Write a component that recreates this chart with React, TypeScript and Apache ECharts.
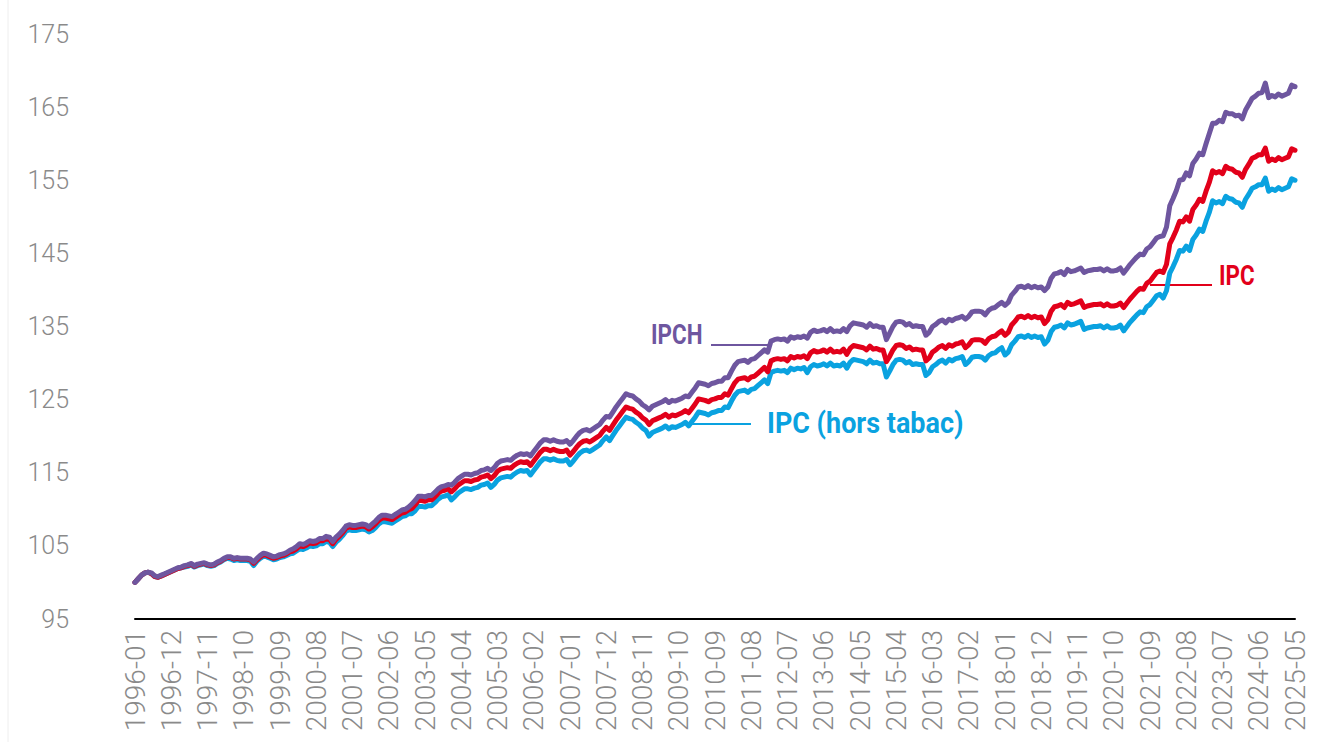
import React, { useEffect, useRef } from 'react';
import * as echarts from 'echarts';

const START_YEAR = 1996;
const MONTH_COUNT = 353;
const months: string[] = [];
for (let i = 0; i < MONTH_COUNT; i++) {
  const y = START_YEAR + Math.floor(i / 12);
  const m = (i % 12) + 1;
  months.push(`${y}-${m < 10 ? '0' + m : m}`);
}

// IPCH (base 100 = 1996-01)
const ipch: number[] = [
  100.0, 100.5, 101.0, 101.3, 101.4, 101.3, 100.9, 100.8, 101.0, 101.2, 101.4, 101.6,
  101.8, 102.0, 102.1, 102.3, 102.4, 102.6, 102.3, 102.5, 102.6, 102.7, 102.5, 102.4,
  102.5, 102.8, 103.0, 103.3, 103.5, 103.5, 103.3, 103.4, 103.3, 103.3, 103.3, 103.2,
  102.8, 103.3, 103.7, 104.0, 103.9, 103.7, 103.5, 103.6, 103.8, 103.9, 104.1, 104.4,
  104.6, 104.9, 105.3, 105.2, 105.4, 105.7, 105.6, 105.7, 106.0, 106.0, 106.3, 106.2,
  105.6, 106.2, 106.6, 107.1, 107.7, 107.9, 107.8, 107.8, 107.9, 108.0, 107.9, 107.6,
  108.0, 108.4, 108.9, 109.2, 109.2, 109.1, 109.0, 109.3, 109.6, 109.9, 110.0, 110.3,
  110.7, 111.2, 111.8, 111.8, 111.7, 111.9, 111.9, 112.3, 112.8, 113.1, 113.2, 113.4,
  113.3, 113.7, 114.2, 114.5, 114.8, 114.8, 114.7, 114.9, 115.0, 115.3, 115.4, 115.6,
  115.3, 115.7, 116.3, 116.6, 116.7, 116.8, 116.7, 117.1, 117.4, 117.6, 117.5, 117.6,
  117.3, 117.9, 118.5, 119.1, 119.5, 119.5, 119.3, 119.5, 119.3, 119.2, 119.2, 119.4,
  118.9, 119.4, 120.0, 120.5, 120.8, 120.9, 120.7, 121.0, 121.3, 121.6, 122.2, 122.7,
  122.6, 123.3, 124.0, 124.6, 125.2, 125.8, 125.6, 125.5, 125.1, 124.8, 124.3, 124.0,
  123.6, 124.1, 124.3, 124.5, 124.7, 125.0, 124.6, 124.9, 124.8, 125.0, 125.2, 125.5,
  125.4, 126.0, 126.6, 127.3, 127.2, 127.1, 126.9, 127.2, 127.3, 127.5, 127.5, 128.0,
  128.0, 128.9, 129.7, 130.2, 130.3, 130.4, 130.1, 130.5, 130.6, 131.0, 131.4, 131.8,
  131.5, 133.0, 133.2, 133.3, 133.2, 133.3, 133.0, 133.6, 133.4, 133.6, 133.5, 133.7,
  133.4, 134.2, 134.5, 134.3, 134.4, 134.6, 134.3, 134.7, 134.3, 134.4, 134.3, 134.7,
  134.3, 135.1, 135.5, 135.4, 135.3, 135.2, 134.9, 135.4, 135.0, 135.1, 134.9, 134.9,
  133.2, 134.1, 135.0, 135.6, 135.7, 135.6, 135.2, 135.4, 135.0, 135.1, 135.0, 135.0,
  133.8, 134.2, 135.0, 135.3, 135.7, 135.9, 135.5, 136.0, 135.8, 136.1, 136.2, 136.4,
  136.0, 136.4, 137.0, 137.1, 137.1, 137.0, 136.6, 137.2, 137.5, 137.6, 138.0, 138.3,
  137.9, 138.3, 139.3, 139.8, 140.4, 140.5, 140.3, 140.6, 140.3, 140.5, 140.3, 140.4,
  139.9, 140.4, 141.6, 142.2, 142.3, 142.5, 142.1, 142.8, 142.5, 142.6, 142.8, 143.0,
  142.4, 142.6, 142.7, 142.8, 142.8, 142.9, 142.6, 142.9, 142.6, 142.6, 142.7, 143.0,
  142.3, 142.9, 143.5, 144.0, 144.5, 144.9, 144.8, 145.6, 145.9, 146.5, 147.1, 147.3,
  147.4, 148.6, 151.5, 152.5, 153.6, 155.0, 155.1, 156.0, 155.6, 157.3, 157.9, 158.7,
  158.5, 160.0, 161.4, 162.8, 162.8, 163.2, 163.0, 164.3, 164.1, 164.1, 163.8, 163.9,
  163.4, 164.6, 165.4, 166.2, 166.5, 166.9, 167.0, 168.3, 166.3, 166.6, 166.4, 166.8,
  166.5, 166.7, 166.9, 168.0, 167.8,
];

// IPC
const ipc: number[] = [
  100.0, 100.5, 101.0, 101.3, 101.4, 101.2, 100.8, 100.7, 100.9, 101.1, 101.3, 101.5,
  101.7, 101.9, 102.0, 102.2, 102.3, 102.5, 102.2, 102.4, 102.5, 102.6, 102.4, 102.3,
  102.4, 102.7, 102.9, 103.2, 103.4, 103.4, 103.2, 103.3, 103.2, 103.2, 103.2, 103.1,
  102.6, 103.1, 103.5, 103.8, 103.7, 103.5, 103.3, 103.4, 103.6, 103.7, 103.9, 104.2,
  104.3, 104.6, 105.0, 104.9, 105.1, 105.4, 105.3, 105.4, 105.7, 105.7, 106.0, 105.9,
  105.3, 105.9, 106.3, 106.8, 107.4, 107.6, 107.5, 107.5, 107.6, 107.7, 107.6, 107.3,
  107.6, 108.0, 108.5, 108.8, 108.8, 108.7, 108.6, 108.9, 109.2, 109.5, 109.6, 109.9,
  110.1, 110.6, 111.2, 111.2, 111.1, 111.3, 111.3, 111.7, 112.2, 112.5, 112.6, 112.8,
  112.4, 112.8, 113.3, 113.6, 113.9, 113.9, 113.8, 114.0, 114.1, 114.4, 114.5, 114.7,
  114.2, 114.6, 115.2, 115.5, 115.6, 115.7, 115.6, 116.0, 116.3, 116.5, 116.4, 116.5,
  116.0, 116.6, 117.2, 117.8, 118.2, 118.2, 118.0, 118.2, 118.0, 117.9, 117.9, 118.1,
  117.4, 117.9, 118.5, 119.0, 119.3, 119.4, 119.2, 119.5, 119.8, 120.1, 120.7, 121.2,
  120.8, 121.5, 122.2, 122.8, 123.4, 124.0, 123.8, 123.7, 123.3, 123.0, 122.5, 122.2,
  121.6, 122.1, 122.3, 122.5, 122.7, 123.0, 122.6, 122.9, 122.8, 123.0, 123.2, 123.5,
  123.2, 123.8, 124.4, 125.1, 125.0, 124.9, 124.7, 125.0, 125.1, 125.3, 125.3, 125.8,
  125.6, 126.5, 127.3, 127.8, 127.9, 128.0, 127.7, 128.1, 128.2, 128.6, 129.0, 129.4,
  128.8, 130.3, 130.5, 130.6, 130.5, 130.6, 130.3, 130.9, 130.7, 130.9, 130.8, 131.0,
  130.6, 131.4, 131.7, 131.5, 131.6, 131.8, 131.5, 131.9, 131.5, 131.6, 131.5, 131.9,
  131.2, 132.0, 132.4, 132.3, 132.2, 132.1, 131.8, 132.3, 131.9, 132.0, 131.8, 131.8,
  130.2, 130.9, 131.8, 132.4, 132.5, 132.4, 132.0, 132.2, 131.8, 131.9, 131.8, 131.8,
  130.3, 130.7, 131.5, 131.8, 132.2, 132.4, 132.0, 132.5, 132.3, 132.6, 132.7, 132.9,
  132.1, 132.5, 133.1, 133.2, 133.2, 133.1, 132.7, 133.3, 133.6, 133.7, 134.1, 134.4,
  133.8, 134.2, 135.2, 135.7, 136.3, 136.4, 136.2, 136.5, 136.2, 136.4, 136.2, 136.3,
  135.4, 135.9, 137.1, 137.7, 137.8, 138.0, 137.6, 138.3, 138.0, 138.1, 138.3, 138.5,
  137.6, 137.8, 137.9, 138.0, 138.0, 138.1, 137.8, 138.1, 137.8, 137.8, 137.9, 138.2,
  137.6, 138.2, 138.8, 139.3, 139.8, 140.2, 140.1, 140.9, 141.2, 141.8, 142.4, 142.6,
  142.4, 143.5, 146.3, 147.2, 148.2, 149.4, 149.3, 150.0, 149.4, 151.0, 151.6, 152.4,
  152.1, 153.5, 154.7, 156.3, 156.0, 156.2, 155.9, 156.9, 156.6, 156.5, 156.1, 156.0,
  155.4, 156.5, 157.2, 158.0, 158.2, 158.5, 158.5, 159.4, 157.6, 157.9, 157.7, 158.1,
  157.8, 158.0, 158.2, 159.3, 159.1,
];

// IPC (hors tabac)
const ipcHorsTabac: number[] = [
  100.0, 100.5, 101.0, 101.3, 101.4, 101.2, 100.8, 100.7, 100.9, 101.1, 101.3, 101.5,
  101.7, 101.9, 102.0, 102.1, 102.2, 102.4, 102.1, 102.3, 102.4, 102.5, 102.3, 102.2,
  102.3, 102.6, 102.8, 103.1, 103.3, 103.2, 103.0, 103.1, 103.0, 103.0, 103.0, 102.9,
  102.3, 102.9, 103.3, 103.6, 103.5, 103.3, 103.1, 103.2, 103.4, 103.5, 103.7, 103.9,
  104.0, 104.3, 104.6, 104.5, 104.7, 105.0, 104.9, 105.0, 105.3, 105.3, 105.6, 105.5,
  104.9, 105.5, 105.9, 106.4, 107.0, 107.2, 107.1, 107.1, 107.2, 107.3, 107.2, 106.9,
  107.1, 107.5, 108.0, 108.3, 108.3, 108.2, 108.1, 108.4, 108.7, 109.0, 109.1, 109.4,
  109.4, 109.8, 110.4, 110.4, 110.3, 110.5, 110.5, 110.9, 111.4, 111.7, 111.8, 112.0,
  111.3, 111.7, 112.2, 112.5, 112.8, 112.8, 112.7, 112.9, 113.0, 113.3, 113.4, 113.6,
  113.0, 113.4, 114.0, 114.3, 114.4, 114.5, 114.4, 114.8, 115.1, 115.3, 115.2, 115.3,
  114.7, 115.3, 115.9, 116.5, 116.9, 116.9, 116.7, 116.9, 116.7, 116.6, 116.6, 116.8,
  116.1, 116.6, 117.2, 117.7, 118.0, 118.1, 117.9, 118.2, 118.5, 118.8, 119.4, 119.9,
  119.4, 120.1, 120.8, 121.4, 122.0, 122.6, 122.4, 122.3, 121.9, 121.6, 121.1, 120.8,
  120.0, 120.5, 120.7, 120.9, 121.1, 121.4, 121.0, 121.3, 121.2, 121.4, 121.6, 121.9,
  121.4, 122.0, 122.6, 123.3, 123.2, 123.1, 122.9, 123.2, 123.3, 123.5, 123.5, 124.0,
  123.9, 124.8, 125.6, 126.1, 126.2, 126.3, 126.0, 126.4, 126.5, 126.9, 127.3, 127.7,
  127.2, 128.7, 128.9, 129.0, 128.9, 129.0, 128.7, 129.3, 129.1, 129.3, 129.2, 129.4,
  128.7, 129.5, 129.8, 129.6, 129.7, 129.9, 129.6, 130.0, 129.6, 129.7, 129.6, 130.0,
  129.3, 130.1, 130.5, 130.4, 130.3, 130.2, 129.9, 130.4, 130.0, 130.1, 129.9, 129.9,
  128.1, 128.9, 129.8, 130.4, 130.5, 130.4, 130.0, 130.2, 129.8, 129.9, 129.8, 129.8,
  128.3, 128.7, 129.5, 129.8, 130.2, 130.4, 130.0, 130.5, 130.3, 130.6, 130.7, 130.9,
  129.8, 130.2, 130.8, 130.9, 130.9, 130.8, 130.4, 131.0, 131.3, 131.4, 131.8, 132.1,
  131.1, 131.5, 132.5, 133.0, 133.6, 133.7, 133.5, 133.8, 133.5, 133.7, 133.5, 133.6,
  132.6, 133.1, 134.3, 134.9, 135.0, 135.2, 134.8, 135.5, 135.2, 135.3, 135.5, 135.7,
  134.6, 134.8, 134.9, 135.0, 135.0, 135.1, 134.8, 135.1, 134.8, 134.8, 134.9, 135.2,
  134.4, 135.0, 135.6, 136.1, 136.6, 137.0, 136.9, 137.7, 138.0, 138.6, 139.2, 139.4,
  138.9, 139.9, 142.3, 143.2, 144.2, 145.4, 145.3, 146.0, 145.4, 146.9, 147.5, 148.3,
  148.0, 149.4, 150.6, 152.2, 151.9, 152.1, 151.8, 152.8, 152.5, 152.4, 152.0, 151.9,
  151.3, 152.4, 153.1, 153.9, 154.1, 154.4, 154.4, 155.3, 153.5, 153.8, 153.6, 154.0,
  153.7, 153.9, 154.1, 155.2, 155.0,
];

const Y_MIN = 95;
const Y_MAX = 175;
const Y_STEP = 10;
const LABEL_EVERY = 11;

const COLOR_IPCH = '#6E569F';
const COLOR_IPC = '#E2001A';
const COLOR_HT = '#0AA2E0';

export default function App() {
  const ref = useRef<HTMLDivElement>(null);

  useEffect(() => {
    if (!ref.current) return;
    const chart = echarts.init(ref.current, null, { renderer: 'svg' });
    const labelFont = 'Roboto';
    const annFont = (size: number) => `bold ${size}px Roboto`;
    chart.setOption({
      animation: false,
      backgroundColor: '#ffffff',
      grid: { left: 135, right: 24, top: 34, bottom: 123, containLabel: false },
      xAxis: {
        type: 'category',
        data: months,
        boundaryGap: false,
        axisLine: { show: true, lineStyle: { color: '#000000', width: 2 } },
        axisTick: { show: false },
        splitLine: { show: false },
        axisLabel: {
          interval: LABEL_EVERY - 1,
          rotate: 90,
          margin: 11,
          color: '#8a8a8a',
          fontFamily: labelFont,
          fontWeight: 300,
          fontSize: 28,
        },
      },
      yAxis: {
        type: 'value',
        min: Y_MIN,
        max: Y_MAX,
        interval: Y_STEP,
        axisLine: { show: false },
        axisTick: { show: false },
        splitLine: { show: false },
        axisLabel: {
          margin: 66,
          color: '#8a8a8a',
          fontFamily: labelFont,
          fontWeight: 300,
          fontSize: 25,
        },
      },
      series: [
        {
          name: 'IPC (hors tabac)',
          type: 'line',
          data: ipcHorsTabac,
          showSymbol: false,
          symbol: 'none',
          lineStyle: { color: COLOR_HT, width: 5, cap: 'round', join: 'round' },
          itemStyle: { color: COLOR_HT },
        },
        {
          name: 'IPC',
          type: 'line',
          data: ipc,
          showSymbol: false,
          symbol: 'none',
          lineStyle: { color: COLOR_IPC, width: 5, cap: 'round', join: 'round' },
          itemStyle: { color: COLOR_IPC },
        },
        {
          name: 'IPCH',
          type: 'line',
          data: ipch,
          showSymbol: false,
          symbol: 'none',
          lineStyle: { color: COLOR_IPCH, width: 5, cap: 'round', join: 'round' },
          itemStyle: { color: COLOR_IPCH },
        },
      ],
      graphic: [
        {
          type: 'line',
          shape: { x1: 8, y1: 0, x2: 8, y2: 742 },
          style: { stroke: '#eeeeee', lineWidth: 1 },
        },
        {
          type: 'text',
          x: 651,
          y: 320,
          scaleX: 0.8,
          style: { text: 'IPCH', font: annFont(28), fill: COLOR_IPCH },
        },
        {
          type: 'line',
          shape: { x1: 711, y1: 345, x2: 771, y2: 345 },
          style: { stroke: COLOR_IPCH, lineWidth: 2 },
        },
        {
          type: 'text',
          x: 767,
          y: 409,
          scaleX: 0.93,
          style: { text: 'IPC (hors tabac)', font: annFont(29), fill: COLOR_HT },
        },
        {
          type: 'line',
          shape: { x1: 690, y1: 424, x2: 751, y2: 424 },
          style: { stroke: COLOR_HT, lineWidth: 2 },
        },
        {
          type: 'text',
          x: 1219,
          y: 261,
          scaleX: 0.8,
          style: { text: 'IPC', font: annFont(28), fill: COLOR_IPC },
        },
        {
          type: 'line',
          shape: { x1: 1150, y1: 285, x2: 1212, y2: 285 },
          style: { stroke: COLOR_IPC, lineWidth: 2 },
        },
      ],
    });
    return () => chart.dispose();
  }, []);

  return (
    <div
      ref={ref}
      style={{ position: 'fixed', left: 0, top: 0, width: 1319, height: 742, background: '#fff' }}
    />
  );
}
